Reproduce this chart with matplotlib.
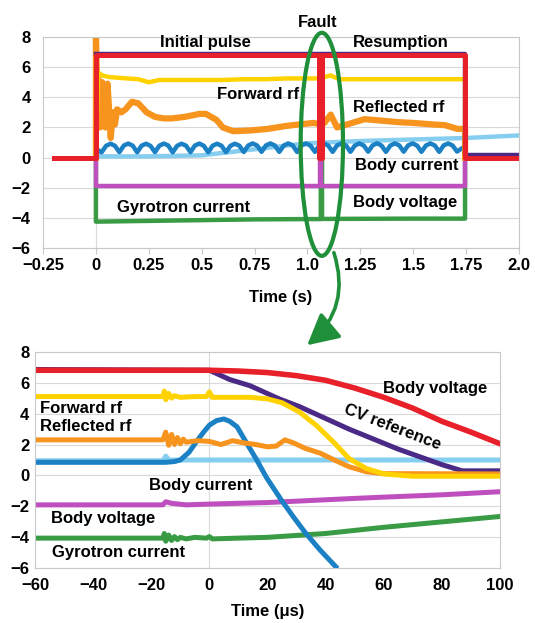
import numpy as np
import matplotlib.pyplot as plt
from matplotlib.patches import Ellipse, FancyArrowPatch

plt.rcParams['font.family'] = ['Liberation Sans', 'DejaVu Sans']
plt.rcParams['font.weight'] = 'bold'

# colours of the traces
RED = '#e8202a'
YELLOW = '#ffd200'
ORANGE = '#f7941e'
LIGHTBLUE = '#86cef0'
BLUE = '#1b80c4'
MAGENTA = '#bf4fbf'
GREEN = '#3a9b45'
PURPLE = '#4a2a86'
GRID = '#d9d9d9'

yticks = [-6, -4, -2, 0, 2, 4, 6, 8]

# ---------------- top panel: full pulse (time in s) ----------------
top_xticks = [-0.25, 0, 0.25, 0.5, 0.75, 1.0, 1.25, 1.5, 1.75, 2.0]
top_xlabels = ['\u22120.25', '0', '0.25', '0.5', '0.75', '1.0', '1.25', '1.5', '1.75', '2.0']

red_t = [-0.2, 0, 0, 1.055, 1.055, 1.07, 1.07, 1.745, 1.745, 2.0]
red_v = [0, 0, 6.8, 6.8, 0, 0, 6.8, 6.8, 0, 0]

purple_t = [0, 1.745, 1.745, 2.0]
purple_v = [6.86, 6.86, 0.15, 0.15]

magenta_t = [0, 0, 1.058, 1.058, 1.066, 1.066, 1.745, 1.745, 2.0]
magenta_v = [0, -1.9, -1.9, 0, 0, -1.9, -1.9, 0, 0]

green_t = [0, 0, 0.25, 0.5, 0.75, 1.0, 1.063, 1.063, 1.069, 1.069, 1.5, 1.745, 1.745]
green_v = [0, -4.25, -4.2, -4.15, -4.1, -4.08, -4.08, 0, 0, -4.07, -4.05, -4.05, 0]

yellow_t = [0, 0.01, 0.03, 0.06, 0.1, 0.15, 0.2, 0.25, 0.3, 0.4, 0.5, 0.6, 0.7,
            0.8, 0.9, 1.0, 1.05, 1.08, 1.11, 1.15, 1.2, 1.4, 1.6, 1.745, 1.745]
yellow_v = [0, 5.65, 5.45, 5.35, 5.3, 5.25, 5.2, 5.0, 5.15, 5.15, 5.15, 5.15, 5.2,
            5.2, 5.25, 5.25, 5.25, 5.35, 5.45, 5.2, 5.2, 5.2, 5.2, 5.2, 0]

orange_t = [0, 0, 0.004, 0.01, 0.02, 0.03, 0.045, 0.055, 0.07, 0.08, 0.09, 0.1, 0.12,
            0.14, 0.17, 0.2, 0.24, 0.28, 0.32, 0.36, 0.42, 0.49, 0.52, 0.57, 0.6,
            0.65, 0.73, 0.81, 0.9, 0.96, 1.03, 1.06, 1.08, 1.11, 1.14, 1.2, 1.27,
            1.35, 1.43, 1.5, 1.59, 1.65, 1.71, 1.745, 1.745]
orange_v = [0, 8.3, 5.6, 5.5, 2.0, 5.0, 2.0, 4.9, 1.3, 3.0, 2.2, 3.2, 3.0,
            3.2, 3.7, 3.6, 3.0, 2.7, 2.6, 2.6, 2.7, 2.9, 2.9, 2.5, 2.0,
            1.75, 1.8, 1.9, 2.1, 2.2, 2.3, 2.2, 2.3, 2.85, 2.0, 2.25, 2.55,
            2.45, 2.35, 2.3, 2.2, 2.15, 1.9, 1.9, 0]

lightblue_t = [0, 0.25, 0.5, 0.75, 1.0, 1.25, 1.5, 1.75, 2.0]
lightblue_v = [0.08, 0.08, 0.15, 0.55, 0.95, 1.1, 1.2, 1.3, 1.47]

# body current ripple, sampled four times per ripple period
ripple_t = np.linspace(0.027, 1.707, 81)
ripple_v = [0.35, 0.78, 0.92, 0.78, 0.36, 0.80, 0.93, 0.79,
            0.35, 0.79, 0.92, 0.78, 0.36, 0.79, 0.93, 0.80,
            0.35, 0.78, 0.92, 0.79, 0.36, 0.80, 0.93, 0.78,
            0.35, 0.79, 0.92, 0.78, 0.36, 0.78, 0.92, 0.79,
            0.37, 0.80, 0.94, 0.80, 0.38, 0.81, 0.94, 0.80,
            0.38, 0.80, 0.94, 0.81, 0.37, 0.81, 0.93, 0.80,
            0.38, 0.80, 0.94, 0.80, 0.38, 0.81, 0.94, 0.81,
            0.38, 0.80, 0.94, 0.80, 0.39, 0.81, 0.95, 0.80,
            0.38, 0.80, 0.94, 0.81, 0.39, 0.81, 0.94, 0.80,
            0.38, 0.80, 0.94, 0.80, 0.38, 0.81, 0.94, 0.80,
            0.40]
blue_t = [0, 0.01] + list(ripple_t) + [1.745, 1.745]
blue_v = [0, 0.5] + ripple_v + [0.75, 0]

top_notes = [('Initial pulse', 0.52, 7.64), ('Resumption', 1.44, 7.62),
             ('Forward rf', 0.765, 4.18), ('Reflected rf', 1.43, 3.32),
             ('Body current', 1.47, -0.53), ('Body voltage', 1.464, -2.96),
             ('Gyrotron current', 0.413, -3.3)]

# ---------------- bottom panel: zoom on the fault (time in us) ----------------
bot_xticks = [-60, -40, -20, 0, 20, 40, 60, 80, 100]
bot_xlabels = ['\u221260', '\u221240', '\u221220', '0', '20', '40', '60', '80', '100']

b_red_t = [-60, 0, 10, 20, 30, 40, 50, 60, 70, 80, 90, 100]
b_red_v = [6.8, 6.8, 6.75, 6.65, 6.45, 6.15, 5.65, 5.05, 4.35, 3.5, 2.8, 2.05]

b_purple_t = [-60, 0, 7, 14, 24, 31, 48, 65, 80, 87, 100]
b_purple_v = [6.85, 6.8, 6.2, 5.8, 4.95, 4.45, 3.0, 1.7, 0.7, 0.3, 0.3]

b_yellow_t = [-60, -16, -15.5, -15, -14, -13, -12, -10, -5, -1, 0, 1, 5, 10, 14,
              20, 25, 31, 37, 43, 48, 54, 60, 70, 100]
b_yellow_v = [5.1, 5.1, 5.45, 4.9, 5.3, 5.0, 5.15, 5.05, 5.1, 5.1, 5.4, 5.05, 5.05, 5.05, 5.05,
              4.95, 4.7, 4.1, 3.2, 2.1, 1.1, 0.45, 0.1, -0.05, -0.05]

b_orange_t = [-60, -16, -15, -14, -13, -12, -11, -10, -9, -8, -4, 0, 4, 8, 12, 16,
              20, 23, 26, 29, 33, 38, 43, 48, 54, 60, 100]
b_orange_v = [2.3, 2.3, 2.8, 1.95, 2.65, 2.0, 2.45, 2.05, 2.35, 2.15, 2.25, 2.2, 2.0, 2.25, 2.1, 2.0,
              1.85, 1.9, 2.3, 2.1, 1.75, 1.45, 1.0, 0.57, 0.24, 0.12, 0.1]

b_lightblue_t = [-60, -16, -15, -14, 100]
b_lightblue_v = [0.95, 0.95, 1.25, 1.0, 1.0]

b_blue_t = [-60, -15, -12, -10, -7, -4.4, -2, 0, 2.5, 5, 7, 9.5, 12.8, 16.3, 19.7,
            24.8, 29, 33, 38, 43.5]
b_blue_v = [0.85, 0.85, 0.9, 1.0, 1.5, 2.2, 2.8, 3.25, 3.55, 3.65, 3.5, 3.15, 2.1, 1.0, -0.15,
            -1.6, -2.7, -3.7, -4.8, -5.9]

b_magenta_t = [-60, -16, -15, -13, -8, 0, 20, 48, 60, 80, 100]
b_magenta_v = [-1.9, -1.9, -1.7, -1.8, -1.9, -1.85, -1.75, -1.5, -1.4, -1.25, -1.05]

b_green_t = [-60, -16, -15.5, -15, -14, -13, -12, -11, -10, -8, -5, -1, 0, 1, 10,
             20, 40, 60, 80, 100]
b_green_v = [-4.05, -4.05, -3.75, -4.25, -3.85, -4.2, -3.95, -4.15, -4.0, -4.1, -4.0, -4.05, -3.95, -4.1, -4.05,
             -4.0, -3.75, -3.35, -3.0, -2.65]

bot_notes = [('Body voltage', 77.6, 5.63), ('Body current', -3.0, -0.62),
             ('Body voltage', -36.4, -2.77), ('Gyrotron current', -31.3, -4.97)]


def style_axes(ax):
    for s in ax.spines.values():
        s.set_color('#c8c8c8')
        s.set_linewidth(0.8)
    ax.set_yticks(yticks)
    ax.grid(axis='y', color=GRID, lw=0.8)
    ax.axvline(0, color=GRID, lw=0.8, zorder=0.5)
    ax.set_axisbelow(True)
    ax.tick_params(axis='y', length=0, labelsize=12)
    ax.tick_params(axis='x', length=4, color='#c8c8c8', labelsize=12)


fig = plt.figure(figsize=(5.35, 6.23), dpi=100)

# ---- top ----
ax1 = fig.add_axes([0.0804, 0.6019, 0.8897, 0.3387])
lw = 3.2
ax1.plot(green_t, green_v, color=GREEN, lw=lw)
ax1.plot(magenta_t, magenta_v, color=MAGENTA, lw=lw)
ax1.plot(lightblue_t, lightblue_v, color=LIGHTBLUE, lw=lw)
ax1.plot(blue_t, blue_v, color=BLUE, lw=lw)
ax1.plot(orange_t, orange_v, color=ORANGE, lw=4.5)
ax1.plot(yellow_t, yellow_v, color=YELLOW, lw=lw)
ax1.plot(purple_t, purple_v, color=PURPLE, lw=lw)
ax1.plot(red_t, red_v, color=RED, lw=3.6)
ax1.set_xlim(-0.25, 2.0)
ax1.set_ylim(-6, 8)
ax1.set_xticks(top_xticks, top_xlabels)
style_axes(ax1)
ax1.tick_params(axis='y', pad=9)
ax1.set_xlabel('Time (s)', fontsize=12, fontweight='bold', labelpad=12)
for txt, x, y in top_notes:
    ax1.text(x, y, txt, ha='center', va='center', fontsize=12, fontweight='bold')
ax1.text(1.05, 8.95, 'Fault', ha='center', va='center', fontsize=12,
         fontweight='bold', clip_on=False)

# fault ellipse
ax1.add_patch(Ellipse((1.068, 0.88), 0.2, 14.8, fill=False, ec='#1f8f3a',
                      lw=3, clip_on=False, zorder=10))

# ---- bottom ----
ax2 = fig.add_axes([0.0654, 0.0878, 0.8692, 0.3477])
lw2 = 3.6
ax2.plot(b_lightblue_t, b_lightblue_v, color=LIGHTBLUE, lw=lw2)
ax2.plot(b_green_t, b_green_v, color=GREEN, lw=lw2)
ax2.plot(b_magenta_t, b_magenta_v, color=MAGENTA, lw=lw2)
ax2.plot(b_blue_t, b_blue_v, color=BLUE, lw=lw2)
ax2.plot(b_purple_t, b_purple_v, color=PURPLE, lw=lw2)
ax2.plot(b_orange_t, b_orange_v, color=ORANGE, lw=lw2)
ax2.plot(b_yellow_t, b_yellow_v, color=YELLOW, lw=lw2)
ax2.plot(b_red_t, b_red_v, color=RED, lw=4)
ax2.set_xlim(-60, 100)
ax2.set_ylim(-6, 8)
ax2.set_xticks(bot_xticks, bot_xlabels)
style_axes(ax2)
ax2.tick_params(axis='x', length=0, pad=7)
ax2.tick_params(axis='y', pad=4)
ax2.set_xlabel('Time (\u03bcs)', fontsize=12, fontweight='bold', labelpad=8)
for txt, x, y in bot_notes:
    ax2.text(x, y, txt, ha='center', va='center', fontsize=12, fontweight='bold')
ax2.text(-58.3, 4.34, 'Forward rf', ha='left', va='center', fontsize=12, fontweight='bold')
ax2.text(-58.3, 3.15, 'Reflected rf', ha='left', va='center', fontsize=12, fontweight='bold')
ax2.text(63.0, 3.1, 'CV reference', ha='center', va='center', fontsize=12,
         fontweight='bold', rotation=-21, rotation_mode='anchor')

# curved arrow from the ellipse down to the zoomed panel (figure pixels)
def px(x, y):
    return (x / 535, 1 - y / 623)

arrow = FancyArrowPatch(px(333, 250), px(305, 347), transform=fig.transFigure,
                        connectionstyle='arc3,rad=-0.35',
                        arrowstyle='-|>,head_length=19,head_width=10',
                        mutation_scale=1, color='#1f8f3a', lw=2.6)
fig.add_artist(arrow)

fig.savefig('out.png', dpi=100)
